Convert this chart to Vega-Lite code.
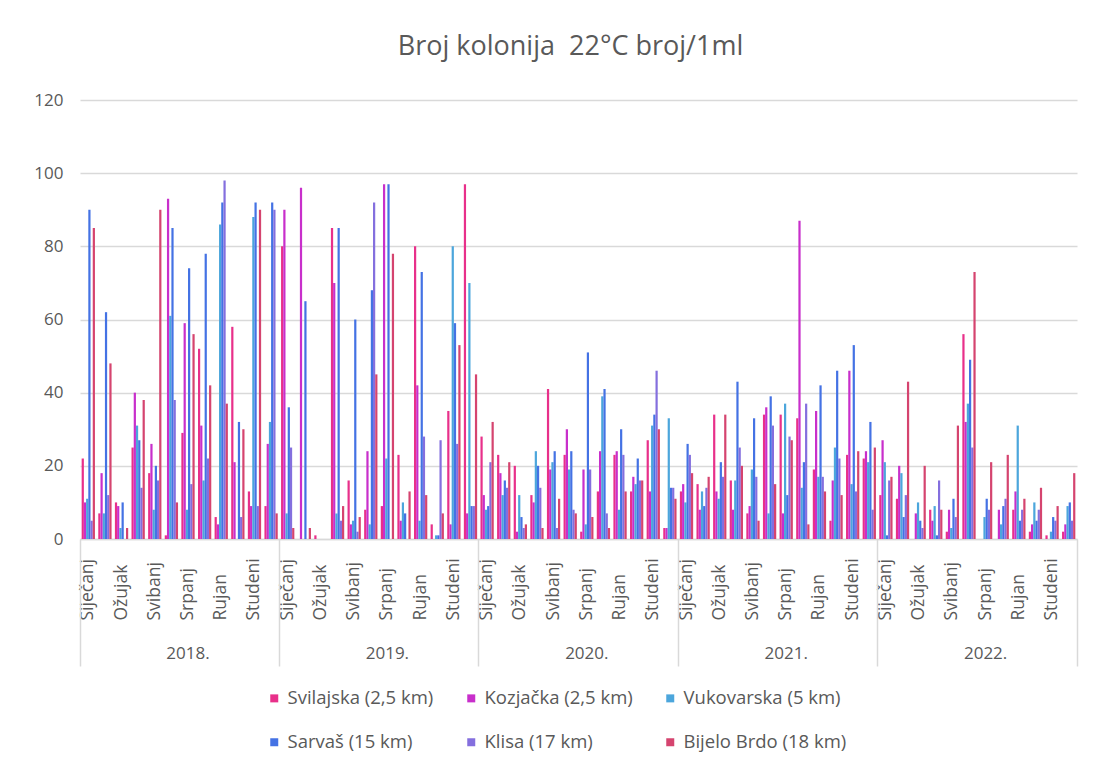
{
"$schema": "https://vega.github.io/schema/vega-lite/v6.json",
"width": 997, "height": 439,
"autosize": {"type": "none"},
"padding": {"left": 80, "top": 100, "right": 17, "bottom": 225},
"background": "white",
"title": {"text": "Broj kolonija\u00a0 22°C broj/1ml", "fontSize": 27, "font": "Open Sans", "fontWeight": "normal", "color": "#595959", "offset": 30, "anchor": "middle", "dx": -8},
"config": {"view": {"stroke": null}, "font": "Open Sans"},
"datasets": {"d": [
{"ym":"2018-01","s":"Svilajska (2,5 km)","v":22},{"ym":"2018-01","s":"Kozjačka (2,5 km)","v":10},{"ym":"2018-01","s":"Vukovarska (5 km)","v":11},{"ym":"2018-01","s":"Sarvaš (15 km)","v":90},{"ym":"2018-01","s":"Klisa (17 km)","v":5},{"ym":"2018-01","s":"Bijelo Brdo (18 km)","v":85},
{"ym":"2018-02","s":"Svilajska (2,5 km)","v":7},{"ym":"2018-02","s":"Kozjačka (2,5 km)","v":18},{"ym":"2018-02","s":"Vukovarska (5 km)","v":7},{"ym":"2018-02","s":"Sarvaš (15 km)","v":62},{"ym":"2018-02","s":"Klisa (17 km)","v":12},{"ym":"2018-02","s":"Bijelo Brdo (18 km)","v":48},
{"ym":"2018-03","s":"Svilajska (2,5 km)","v":10},{"ym":"2018-03","s":"Kozjačka (2,5 km)","v":9},{"ym":"2018-03","s":"Vukovarska (5 km)","v":3},{"ym":"2018-03","s":"Sarvaš (15 km)","v":10},{"ym":"2018-03","s":"Klisa (17 km)","v":0},{"ym":"2018-03","s":"Bijelo Brdo (18 km)","v":3},
{"ym":"2018-04","s":"Svilajska (2,5 km)","v":25},{"ym":"2018-04","s":"Kozjačka (2,5 km)","v":40},{"ym":"2018-04","s":"Vukovarska (5 km)","v":31},{"ym":"2018-04","s":"Sarvaš (15 km)","v":27},{"ym":"2018-04","s":"Klisa (17 km)","v":14},{"ym":"2018-04","s":"Bijelo Brdo (18 km)","v":38},
{"ym":"2018-05","s":"Svilajska (2,5 km)","v":18},{"ym":"2018-05","s":"Kozjačka (2,5 km)","v":26},{"ym":"2018-05","s":"Vukovarska (5 km)","v":8},{"ym":"2018-05","s":"Sarvaš (15 km)","v":20},{"ym":"2018-05","s":"Klisa (17 km)","v":16},{"ym":"2018-05","s":"Bijelo Brdo (18 km)","v":90},
{"ym":"2018-06","s":"Svilajska (2,5 km)","v":1},{"ym":"2018-06","s":"Kozjačka (2,5 km)","v":93},{"ym":"2018-06","s":"Vukovarska (5 km)","v":61},{"ym":"2018-06","s":"Sarvaš (15 km)","v":85},{"ym":"2018-06","s":"Klisa (17 km)","v":38},{"ym":"2018-06","s":"Bijelo Brdo (18 km)","v":10},
{"ym":"2018-07","s":"Svilajska (2,5 km)","v":29},{"ym":"2018-07","s":"Kozjačka (2,5 km)","v":59},{"ym":"2018-07","s":"Vukovarska (5 km)","v":8},{"ym":"2018-07","s":"Sarvaš (15 km)","v":74},{"ym":"2018-07","s":"Klisa (17 km)","v":15},{"ym":"2018-07","s":"Bijelo Brdo (18 km)","v":56},
{"ym":"2018-08","s":"Svilajska (2,5 km)","v":52},{"ym":"2018-08","s":"Kozjačka (2,5 km)","v":31},{"ym":"2018-08","s":"Vukovarska (5 km)","v":16},{"ym":"2018-08","s":"Sarvaš (15 km)","v":78},{"ym":"2018-08","s":"Klisa (17 km)","v":22},{"ym":"2018-08","s":"Bijelo Brdo (18 km)","v":42},
{"ym":"2018-09","s":"Svilajska (2,5 km)","v":6},{"ym":"2018-09","s":"Kozjačka (2,5 km)","v":4},{"ym":"2018-09","s":"Vukovarska (5 km)","v":86},{"ym":"2018-09","s":"Sarvaš (15 km)","v":92},{"ym":"2018-09","s":"Klisa (17 km)","v":98},{"ym":"2018-09","s":"Bijelo Brdo (18 km)","v":37},
{"ym":"2018-10","s":"Svilajska (2,5 km)","v":58},{"ym":"2018-10","s":"Kozjačka (2,5 km)","v":21},{"ym":"2018-10","s":"Vukovarska (5 km)","v":0},{"ym":"2018-10","s":"Sarvaš (15 km)","v":32},{"ym":"2018-10","s":"Klisa (17 km)","v":6},{"ym":"2018-10","s":"Bijelo Brdo (18 km)","v":30},
{"ym":"2018-11","s":"Svilajska (2,5 km)","v":13},{"ym":"2018-11","s":"Kozjačka (2,5 km)","v":9},{"ym":"2018-11","s":"Vukovarska (5 km)","v":88},{"ym":"2018-11","s":"Sarvaš (15 km)","v":92},{"ym":"2018-11","s":"Klisa (17 km)","v":9},{"ym":"2018-11","s":"Bijelo Brdo (18 km)","v":90},
{"ym":"2018-12","s":"Svilajska (2,5 km)","v":9},{"ym":"2018-12","s":"Kozjačka (2,5 km)","v":26},{"ym":"2018-12","s":"Vukovarska (5 km)","v":32},{"ym":"2018-12","s":"Sarvaš (15 km)","v":92},{"ym":"2018-12","s":"Klisa (17 km)","v":90},{"ym":"2018-12","s":"Bijelo Brdo (18 km)","v":7},
{"ym":"2019-01","s":"Svilajska (2,5 km)","v":80},{"ym":"2019-01","s":"Kozjačka (2,5 km)","v":90},{"ym":"2019-01","s":"Vukovarska (5 km)","v":7},{"ym":"2019-01","s":"Sarvaš (15 km)","v":36},{"ym":"2019-01","s":"Klisa (17 km)","v":25},{"ym":"2019-01","s":"Bijelo Brdo (18 km)","v":3},
{"ym":"2019-02","s":"Svilajska (2,5 km)","v":0},{"ym":"2019-02","s":"Kozjačka (2,5 km)","v":96},{"ym":"2019-02","s":"Vukovarska (5 km)","v":0},{"ym":"2019-02","s":"Sarvaš (15 km)","v":65},{"ym":"2019-02","s":"Klisa (17 km)","v":0},{"ym":"2019-02","s":"Bijelo Brdo (18 km)","v":3},
{"ym":"2019-03","s":"Svilajska (2,5 km)","v":1},{"ym":"2019-03","s":"Kozjačka (2,5 km)","v":0},{"ym":"2019-03","s":"Vukovarska (5 km)","v":0},{"ym":"2019-03","s":"Sarvaš (15 km)","v":0},{"ym":"2019-03","s":"Klisa (17 km)","v":0},{"ym":"2019-03","s":"Bijelo Brdo (18 km)","v":0},
{"ym":"2019-04","s":"Svilajska (2,5 km)","v":85},{"ym":"2019-04","s":"Kozjačka (2,5 km)","v":70},{"ym":"2019-04","s":"Vukovarska (5 km)","v":7},{"ym":"2019-04","s":"Sarvaš (15 km)","v":85},{"ym":"2019-04","s":"Klisa (17 km)","v":5},{"ym":"2019-04","s":"Bijelo Brdo (18 km)","v":9},
{"ym":"2019-05","s":"Svilajska (2,5 km)","v":16},{"ym":"2019-05","s":"Kozjačka (2,5 km)","v":4},{"ym":"2019-05","s":"Vukovarska (5 km)","v":5},{"ym":"2019-05","s":"Sarvaš (15 km)","v":60},{"ym":"2019-05","s":"Klisa (17 km)","v":2},{"ym":"2019-05","s":"Bijelo Brdo (18 km)","v":6},
{"ym":"2019-06","s":"Svilajska (2,5 km)","v":8},{"ym":"2019-06","s":"Kozjačka (2,5 km)","v":24},{"ym":"2019-06","s":"Vukovarska (5 km)","v":4},{"ym":"2019-06","s":"Sarvaš (15 km)","v":68},{"ym":"2019-06","s":"Klisa (17 km)","v":92},{"ym":"2019-06","s":"Bijelo Brdo (18 km)","v":45},
{"ym":"2019-07","s":"Svilajska (2,5 km)","v":9},{"ym":"2019-07","s":"Kozjačka (2,5 km)","v":97},{"ym":"2019-07","s":"Vukovarska (5 km)","v":22},{"ym":"2019-07","s":"Sarvaš (15 km)","v":97},{"ym":"2019-07","s":"Klisa (17 km)","v":0},{"ym":"2019-07","s":"Bijelo Brdo (18 km)","v":78},
{"ym":"2019-08","s":"Svilajska (2,5 km)","v":23},{"ym":"2019-08","s":"Kozjačka (2,5 km)","v":5},{"ym":"2019-08","s":"Vukovarska (5 km)","v":10},{"ym":"2019-08","s":"Sarvaš (15 km)","v":7},{"ym":"2019-08","s":"Klisa (17 km)","v":0},{"ym":"2019-08","s":"Bijelo Brdo (18 km)","v":13},
{"ym":"2019-09","s":"Svilajska (2,5 km)","v":80},{"ym":"2019-09","s":"Kozjačka (2,5 km)","v":42},{"ym":"2019-09","s":"Vukovarska (5 km)","v":5},{"ym":"2019-09","s":"Sarvaš (15 km)","v":73},{"ym":"2019-09","s":"Klisa (17 km)","v":28},{"ym":"2019-09","s":"Bijelo Brdo (18 km)","v":12},
{"ym":"2019-10","s":"Svilajska (2,5 km)","v":4},{"ym":"2019-10","s":"Kozjačka (2,5 km)","v":0},{"ym":"2019-10","s":"Vukovarska (5 km)","v":1},{"ym":"2019-10","s":"Sarvaš (15 km)","v":1},{"ym":"2019-10","s":"Klisa (17 km)","v":27},{"ym":"2019-10","s":"Bijelo Brdo (18 km)","v":7},
{"ym":"2019-11","s":"Svilajska (2,5 km)","v":35},{"ym":"2019-11","s":"Kozjačka (2,5 km)","v":4},{"ym":"2019-11","s":"Vukovarska (5 km)","v":80},{"ym":"2019-11","s":"Sarvaš (15 km)","v":59},{"ym":"2019-11","s":"Klisa (17 km)","v":26},{"ym":"2019-11","s":"Bijelo Brdo (18 km)","v":53},
{"ym":"2019-12","s":"Svilajska (2,5 km)","v":97},{"ym":"2019-12","s":"Kozjačka (2,5 km)","v":7},{"ym":"2019-12","s":"Vukovarska (5 km)","v":70},{"ym":"2019-12","s":"Sarvaš (15 km)","v":9},{"ym":"2019-12","s":"Klisa (17 km)","v":9},{"ym":"2019-12","s":"Bijelo Brdo (18 km)","v":45},
{"ym":"2020-01","s":"Svilajska (2,5 km)","v":28},{"ym":"2020-01","s":"Kozjačka (2,5 km)","v":12},{"ym":"2020-01","s":"Vukovarska (5 km)","v":8},{"ym":"2020-01","s":"Sarvaš (15 km)","v":9},{"ym":"2020-01","s":"Klisa (17 km)","v":21},{"ym":"2020-01","s":"Bijelo Brdo (18 km)","v":32},
{"ym":"2020-02","s":"Svilajska (2,5 km)","v":23},{"ym":"2020-02","s":"Kozjačka (2,5 km)","v":18},{"ym":"2020-02","s":"Vukovarska (5 km)","v":12},{"ym":"2020-02","s":"Sarvaš (15 km)","v":16},{"ym":"2020-02","s":"Klisa (17 km)","v":14},{"ym":"2020-02","s":"Bijelo Brdo (18 km)","v":21},
{"ym":"2020-03","s":"Svilajska (2,5 km)","v":20},{"ym":"2020-03","s":"Kozjačka (2,5 km)","v":2},{"ym":"2020-03","s":"Vukovarska (5 km)","v":12},{"ym":"2020-03","s":"Sarvaš (15 km)","v":6},{"ym":"2020-03","s":"Klisa (17 km)","v":3},{"ym":"2020-03","s":"Bijelo Brdo (18 km)","v":4},
{"ym":"2020-04","s":"Svilajska (2,5 km)","v":12},{"ym":"2020-04","s":"Kozjačka (2,5 km)","v":10},{"ym":"2020-04","s":"Vukovarska (5 km)","v":24},{"ym":"2020-04","s":"Sarvaš (15 km)","v":20},{"ym":"2020-04","s":"Klisa (17 km)","v":14},{"ym":"2020-04","s":"Bijelo Brdo (18 km)","v":3},
{"ym":"2020-05","s":"Svilajska (2,5 km)","v":41},{"ym":"2020-05","s":"Kozjačka (2,5 km)","v":19},{"ym":"2020-05","s":"Vukovarska (5 km)","v":21},{"ym":"2020-05","s":"Sarvaš (15 km)","v":24},{"ym":"2020-05","s":"Klisa (17 km)","v":3},{"ym":"2020-05","s":"Bijelo Brdo (18 km)","v":11},
{"ym":"2020-06","s":"Svilajska (2,5 km)","v":23},{"ym":"2020-06","s":"Kozjačka (2,5 km)","v":30},{"ym":"2020-06","s":"Vukovarska (5 km)","v":19},{"ym":"2020-06","s":"Sarvaš (15 km)","v":24},{"ym":"2020-06","s":"Klisa (17 km)","v":8},{"ym":"2020-06","s":"Bijelo Brdo (18 km)","v":7},
{"ym":"2020-07","s":"Svilajska (2,5 km)","v":2},{"ym":"2020-07","s":"Kozjačka (2,5 km)","v":19},{"ym":"2020-07","s":"Vukovarska (5 km)","v":4},{"ym":"2020-07","s":"Sarvaš (15 km)","v":51},{"ym":"2020-07","s":"Klisa (17 km)","v":19},{"ym":"2020-07","s":"Bijelo Brdo (18 km)","v":6},
{"ym":"2020-08","s":"Svilajska (2,5 km)","v":13},{"ym":"2020-08","s":"Kozjačka (2,5 km)","v":24},{"ym":"2020-08","s":"Vukovarska (5 km)","v":39},{"ym":"2020-08","s":"Sarvaš (15 km)","v":41},{"ym":"2020-08","s":"Klisa (17 km)","v":7},{"ym":"2020-08","s":"Bijelo Brdo (18 km)","v":3},
{"ym":"2020-09","s":"Svilajska (2,5 km)","v":23},{"ym":"2020-09","s":"Kozjačka (2,5 km)","v":24},{"ym":"2020-09","s":"Vukovarska (5 km)","v":8},{"ym":"2020-09","s":"Sarvaš (15 km)","v":30},{"ym":"2020-09","s":"Klisa (17 km)","v":23},{"ym":"2020-09","s":"Bijelo Brdo (18 km)","v":13},
{"ym":"2020-10","s":"Svilajska (2,5 km)","v":13},{"ym":"2020-10","s":"Kozjačka (2,5 km)","v":17},{"ym":"2020-10","s":"Vukovarska (5 km)","v":15},{"ym":"2020-10","s":"Sarvaš (15 km)","v":22},{"ym":"2020-10","s":"Klisa (17 km)","v":16},{"ym":"2020-10","s":"Bijelo Brdo (18 km)","v":16},
{"ym":"2020-11","s":"Svilajska (2,5 km)","v":27},{"ym":"2020-11","s":"Kozjačka (2,5 km)","v":13},{"ym":"2020-11","s":"Vukovarska (5 km)","v":31},{"ym":"2020-11","s":"Sarvaš (15 km)","v":34},{"ym":"2020-11","s":"Klisa (17 km)","v":46},{"ym":"2020-11","s":"Bijelo Brdo (18 km)","v":30},
{"ym":"2020-12","s":"Svilajska (2,5 km)","v":3},{"ym":"2020-12","s":"Kozjačka (2,5 km)","v":3},{"ym":"2020-12","s":"Vukovarska (5 km)","v":33},{"ym":"2020-12","s":"Sarvaš (15 km)","v":14},{"ym":"2020-12","s":"Klisa (17 km)","v":14},{"ym":"2020-12","s":"Bijelo Brdo (18 km)","v":11},
{"ym":"2021-01","s":"Svilajska (2,5 km)","v":13},{"ym":"2021-01","s":"Kozjačka (2,5 km)","v":15},{"ym":"2021-01","s":"Vukovarska (5 km)","v":10},{"ym":"2021-01","s":"Sarvaš (15 km)","v":26},{"ym":"2021-01","s":"Klisa (17 km)","v":23},{"ym":"2021-01","s":"Bijelo Brdo (18 km)","v":18},
{"ym":"2021-02","s":"Svilajska (2,5 km)","v":15},{"ym":"2021-02","s":"Kozjačka (2,5 km)","v":8},{"ym":"2021-02","s":"Vukovarska (5 km)","v":13},{"ym":"2021-02","s":"Sarvaš (15 km)","v":9},{"ym":"2021-02","s":"Klisa (17 km)","v":14},{"ym":"2021-02","s":"Bijelo Brdo (18 km)","v":17},
{"ym":"2021-03","s":"Svilajska (2,5 km)","v":34},{"ym":"2021-03","s":"Kozjačka (2,5 km)","v":13},{"ym":"2021-03","s":"Vukovarska (5 km)","v":11},{"ym":"2021-03","s":"Sarvaš (15 km)","v":21},{"ym":"2021-03","s":"Klisa (17 km)","v":17},{"ym":"2021-03","s":"Bijelo Brdo (18 km)","v":34},
{"ym":"2021-04","s":"Svilajska (2,5 km)","v":16},{"ym":"2021-04","s":"Kozjačka (2,5 km)","v":8},{"ym":"2021-04","s":"Vukovarska (5 km)","v":16},{"ym":"2021-04","s":"Sarvaš (15 km)","v":43},{"ym":"2021-04","s":"Klisa (17 km)","v":25},{"ym":"2021-04","s":"Bijelo Brdo (18 km)","v":20},
{"ym":"2021-05","s":"Svilajska (2,5 km)","v":7},{"ym":"2021-05","s":"Kozjačka (2,5 km)","v":9},{"ym":"2021-05","s":"Vukovarska (5 km)","v":19},{"ym":"2021-05","s":"Sarvaš (15 km)","v":33},{"ym":"2021-05","s":"Klisa (17 km)","v":17},{"ym":"2021-05","s":"Bijelo Brdo (18 km)","v":5},
{"ym":"2021-06","s":"Svilajska (2,5 km)","v":34},{"ym":"2021-06","s":"Kozjačka (2,5 km)","v":36},{"ym":"2021-06","s":"Vukovarska (5 km)","v":7},{"ym":"2021-06","s":"Sarvaš (15 km)","v":39},{"ym":"2021-06","s":"Klisa (17 km)","v":31},{"ym":"2021-06","s":"Bijelo Brdo (18 km)","v":15},
{"ym":"2021-07","s":"Svilajska (2,5 km)","v":34},{"ym":"2021-07","s":"Kozjačka (2,5 km)","v":7},{"ym":"2021-07","s":"Vukovarska (5 km)","v":37},{"ym":"2021-07","s":"Sarvaš (15 km)","v":12},{"ym":"2021-07","s":"Klisa (17 km)","v":28},{"ym":"2021-07","s":"Bijelo Brdo (18 km)","v":27},
{"ym":"2021-08","s":"Svilajska (2,5 km)","v":33},{"ym":"2021-08","s":"Kozjačka (2,5 km)","v":87},{"ym":"2021-08","s":"Vukovarska (5 km)","v":14},{"ym":"2021-08","s":"Sarvaš (15 km)","v":21},{"ym":"2021-08","s":"Klisa (17 km)","v":37},{"ym":"2021-08","s":"Bijelo Brdo (18 km)","v":4},
{"ym":"2021-09","s":"Svilajska (2,5 km)","v":19},{"ym":"2021-09","s":"Kozjačka (2,5 km)","v":35},{"ym":"2021-09","s":"Vukovarska (5 km)","v":17},{"ym":"2021-09","s":"Sarvaš (15 km)","v":42},{"ym":"2021-09","s":"Klisa (17 km)","v":17},{"ym":"2021-09","s":"Bijelo Brdo (18 km)","v":13},
{"ym":"2021-10","s":"Svilajska (2,5 km)","v":5},{"ym":"2021-10","s":"Kozjačka (2,5 km)","v":16},{"ym":"2021-10","s":"Vukovarska (5 km)","v":25},{"ym":"2021-10","s":"Sarvaš (15 km)","v":46},{"ym":"2021-10","s":"Klisa (17 km)","v":22},{"ym":"2021-10","s":"Bijelo Brdo (18 km)","v":12},
{"ym":"2021-11","s":"Svilajska (2,5 km)","v":23},{"ym":"2021-11","s":"Kozjačka (2,5 km)","v":46},{"ym":"2021-11","s":"Vukovarska (5 km)","v":15},{"ym":"2021-11","s":"Sarvaš (15 km)","v":53},{"ym":"2021-11","s":"Klisa (17 km)","v":13},{"ym":"2021-11","s":"Bijelo Brdo (18 km)","v":24},
{"ym":"2021-12","s":"Svilajska (2,5 km)","v":22},{"ym":"2021-12","s":"Kozjačka (2,5 km)","v":24},{"ym":"2021-12","s":"Vukovarska (5 km)","v":21},{"ym":"2021-12","s":"Sarvaš (15 km)","v":32},{"ym":"2021-12","s":"Klisa (17 km)","v":8},{"ym":"2021-12","s":"Bijelo Brdo (18 km)","v":25},
{"ym":"2022-01","s":"Svilajska (2,5 km)","v":12},{"ym":"2022-01","s":"Kozjačka (2,5 km)","v":27},{"ym":"2022-01","s":"Vukovarska (5 km)","v":21},{"ym":"2022-01","s":"Sarvaš (15 km)","v":1},{"ym":"2022-01","s":"Klisa (17 km)","v":16},{"ym":"2022-01","s":"Bijelo Brdo (18 km)","v":17},
{"ym":"2022-02","s":"Svilajska (2,5 km)","v":11},{"ym":"2022-02","s":"Kozjačka (2,5 km)","v":20},{"ym":"2022-02","s":"Vukovarska (5 km)","v":18},{"ym":"2022-02","s":"Sarvaš (15 km)","v":6},{"ym":"2022-02","s":"Klisa (17 km)","v":12},{"ym":"2022-02","s":"Bijelo Brdo (18 km)","v":43},
{"ym":"2022-03","s":"Svilajska (2,5 km)","v":0},{"ym":"2022-03","s":"Kozjačka (2,5 km)","v":7},{"ym":"2022-03","s":"Vukovarska (5 km)","v":10},{"ym":"2022-03","s":"Sarvaš (15 km)","v":5},{"ym":"2022-03","s":"Klisa (17 km)","v":3},{"ym":"2022-03","s":"Bijelo Brdo (18 km)","v":20},
{"ym":"2022-04","s":"Svilajska (2,5 km)","v":8},{"ym":"2022-04","s":"Kozjačka (2,5 km)","v":5},{"ym":"2022-04","s":"Vukovarska (5 km)","v":9},{"ym":"2022-04","s":"Sarvaš (15 km)","v":1},{"ym":"2022-04","s":"Klisa (17 km)","v":16},{"ym":"2022-04","s":"Bijelo Brdo (18 km)","v":8},
{"ym":"2022-05","s":"Svilajska (2,5 km)","v":2},{"ym":"2022-05","s":"Kozjačka (2,5 km)","v":8},{"ym":"2022-05","s":"Vukovarska (5 km)","v":3},{"ym":"2022-05","s":"Sarvaš (15 km)","v":11},{"ym":"2022-05","s":"Klisa (17 km)","v":6},{"ym":"2022-05","s":"Bijelo Brdo (18 km)","v":31},
{"ym":"2022-06","s":"Svilajska (2,5 km)","v":56},{"ym":"2022-06","s":"Kozjačka (2,5 km)","v":32},{"ym":"2022-06","s":"Vukovarska (5 km)","v":37},{"ym":"2022-06","s":"Sarvaš (15 km)","v":49},{"ym":"2022-06","s":"Klisa (17 km)","v":25},{"ym":"2022-06","s":"Bijelo Brdo (18 km)","v":73},
{"ym":"2022-07","s":"Svilajska (2,5 km)","v":0},{"ym":"2022-07","s":"Kozjačka (2,5 km)","v":0},{"ym":"2022-07","s":"Vukovarska (5 km)","v":6},{"ym":"2022-07","s":"Sarvaš (15 km)","v":11},{"ym":"2022-07","s":"Klisa (17 km)","v":8},{"ym":"2022-07","s":"Bijelo Brdo (18 km)","v":21},
{"ym":"2022-08","s":"Svilajska (2,5 km)","v":0},{"ym":"2022-08","s":"Kozjačka (2,5 km)","v":8},{"ym":"2022-08","s":"Vukovarska (5 km)","v":4},{"ym":"2022-08","s":"Sarvaš (15 km)","v":9},{"ym":"2022-08","s":"Klisa (17 km)","v":11},{"ym":"2022-08","s":"Bijelo Brdo (18 km)","v":23},
{"ym":"2022-09","s":"Svilajska (2,5 km)","v":8},{"ym":"2022-09","s":"Kozjačka (2,5 km)","v":13},{"ym":"2022-09","s":"Vukovarska (5 km)","v":31},{"ym":"2022-09","s":"Sarvaš (15 km)","v":5},{"ym":"2022-09","s":"Klisa (17 km)","v":8},{"ym":"2022-09","s":"Bijelo Brdo (18 km)","v":11},
{"ym":"2022-10","s":"Svilajska (2,5 km)","v":2},{"ym":"2022-10","s":"Kozjačka (2,5 km)","v":4},{"ym":"2022-10","s":"Vukovarska (5 km)","v":10},{"ym":"2022-10","s":"Sarvaš (15 km)","v":5},{"ym":"2022-10","s":"Klisa (17 km)","v":8},{"ym":"2022-10","s":"Bijelo Brdo (18 km)","v":14},
{"ym":"2022-11","s":"Svilajska (2,5 km)","v":1},{"ym":"2022-11","s":"Kozjačka (2,5 km)","v":0},{"ym":"2022-11","s":"Vukovarska (5 km)","v":2},{"ym":"2022-11","s":"Sarvaš (15 km)","v":6},{"ym":"2022-11","s":"Klisa (17 km)","v":5},{"ym":"2022-11","s":"Bijelo Brdo (18 km)","v":9},
{"ym":"2022-12","s":"Svilajska (2,5 km)","v":2},{"ym":"2022-12","s":"Kozjačka (2,5 km)","v":4},{"ym":"2022-12","s":"Vukovarska (5 km)","v":9},{"ym":"2022-12","s":"Sarvaš (15 km)","v":10},{"ym":"2022-12","s":"Klisa (17 km)","v":5},{"ym":"2022-12","s":"Bijelo Brdo (18 km)","v":18}
]},
"data": {"name": "d"},
"layer": [
{
"mark": {"type": "bar"},
"encoding": {
"x": {"field": "ym", "type": "nominal", "scale": {"paddingInner": 0, "paddingOuter": 0},
"axis": {"orient": "bottom", "title": null, "domain": true, "domainColor": "#D9D9D9", "domainWidth": 1.5, "ticks": false, "grid": false, "labelAngle": -90, "labelAlign": "left", "labelBaseline": "middle", "labelPadding": 81, "labelFontSize": 17.5, "labelColor": "#595959", "labelFont": "Open Sans", "labelOverlap": false, "labelExpr": "['Siječanj','','Ožujak','','Svibanj','','Srpanj','','Rujan','','Studeni',''][toNumber(slice(datum.value,5))-1]"}},
"xOffset": {"field": "s", "type": "nominal", "scale": {"domain": ["Svilajska (2,5 km)","Kozjačka (2,5 km)","Vukovarska (5 km)","Sarvaš (15 km)","Klisa (17 km)","Bijelo Brdo (18 km)"], "paddingInner": 0, "paddingOuter": 0.75}},
"y": {"field": "v", "type": "quantitative", "scale": {"domain": [0, 120], "nice": false},
"axis": {"title": null, "values": [0,20,40,60,80,100,120], "domain": false, "ticks": false, "gridColor": "#D9D9D9", "gridWidth": 1.5, "labelFontSize": 17, "labelColor": "#595959", "labelFont": "Open Sans", "labelPadding": 17}},
"color": {"field": "s", "type": "nominal", "scale": {"domain": ["Svilajska (2,5 km)","Kozjačka (2,5 km)","Vukovarska (5 km)","Sarvaš (15 km)","Klisa (17 km)","Bijelo Brdo (18 km)"], "range": ["#E8308A","#C82FCB","#4CA6DC","#4472E4","#846FDE","#D5446F"]},
"legend": {"title": null, "orient": "none", "legendX": 185, "legendY": 589, "direction": "horizontal", "columns": 3, "columnPadding": 28, "rowPadding": 25, "symbolType": "square", "symbolSize": 64, "symbolStrokeWidth": 0, "labelFontSize": 18.5, "labelColor": "#595959", "labelFont": "Open Sans", "labelOffset": 4, "labelLimit": 300}}
}
},
{
"mark": {"type": "rule", "opacity": 0},
"encoding": {
"x": {"field": "ym", "type": "nominal",
"axis": {"orient": "bottom", "title": null, "bandPosition": 0, "values": ["2018-01","2018-07","2019-01","2019-07","2020-01","2020-07","2021-01","2021-07","2022-01","2022-07"], "domain": false, "grid": false, "ticks": true, "tickSize": 127, "tickColor": "#D9D9D9", "tickWidth": 1.5, "tickOpacity": {"condition": {"test": "slice(datum.value,5)=='01'", "value": 1}, "value": 0}, "labelExpr": "slice(datum.value,5)=='07' ? slice(datum.value,0,4)+'.' : ''", "labelPadding": -21, "labelAngle": 0, "labelAlign": "center", "labelBaseline": "top", "labelFontSize": 17, "labelColor": "#595959", "labelFont": "Open Sans", "labelOverlap": false}}
}
},
{
"mark": {"type": "rule", "opacity": 0},
"encoding": {
"x": {"field": "ym", "type": "nominal",
"axis": {"orient": "bottom", "title": null, "bandPosition": 1, "values": ["2022-12"], "domain": false, "grid": false, "labels": false, "ticks": true, "tickSize": 127, "tickColor": "#D9D9D9", "tickWidth": 1.5}}
}
}
],
"resolve": {"axis": {"x": "independent"}}
}
